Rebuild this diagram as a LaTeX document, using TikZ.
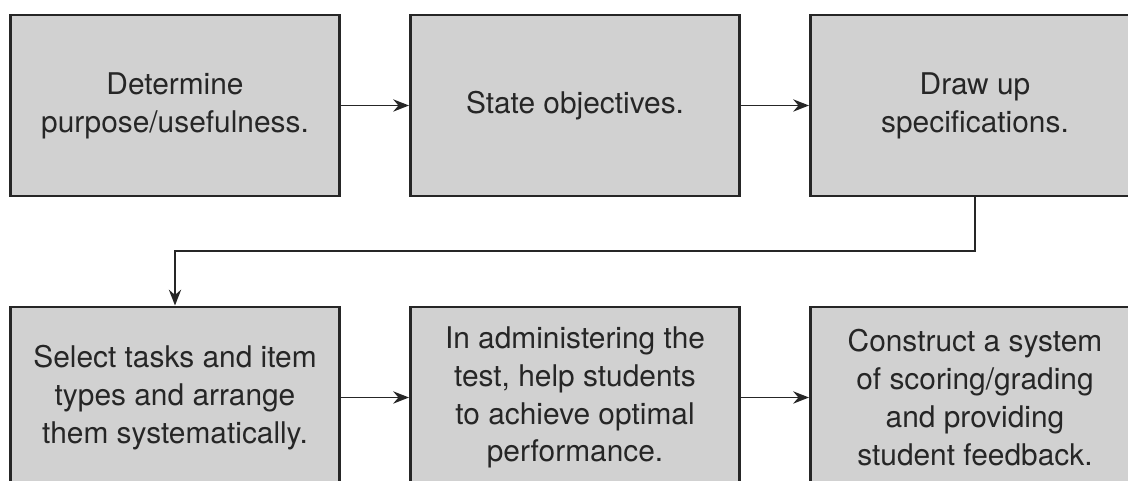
\documentclass[tikz,border=0pt]{standalone}
\usepackage{fontspec}
\setmainfont{TeX Gyre Heros}
\usepackage{tikz}
\usetikzlibrary{arrows.meta}
\definecolor{boxgray}{rgb}{0.82,0.82,0.82}
\definecolor{ink}{rgb}{0.15,0.15,0.15}

\begin{document}
\begin{tikzpicture}
\tikzstyle{stage} = [rectangle, draw=ink, line width=1.7pt, fill=boxgray, text=ink,
  minimum width=6.58cm, minimum height=3.62cm, inner sep=0pt, align=center,
  font=\fontsize{17}{21.5}\selectfont]
\tikzstyle{flow} = [draw=ink, line width=1.1pt, -{Stealth[length=9pt,width=7pt,inset=3pt]}]

\clip (0,0) rectangle (22.56,-9.62);

\node[stage] (purpose) at (3.5,-2.11) {Determine\\purpose/usefulness.};
\node[stage] (objectives) at (11.5,-2.11) {State objectives.};
\node[stage] (specs) at (19.5,-2.11) {Draw up\\specifications.};
\node[stage] (tasks) at (3.5,-7.95) {Select tasks and item\\types and arrange\\them systematically.};
\node[stage] (admin) at (11.5,-7.95) {In administering the\\test, help students\\to achieve optimal\\performance.};
\node[stage] (scoring) at (19.5,-7.95) {Construct a system\\of scoring/grading\\and providing\\student feedback.};

\coordinate (turn) at (3.5,-5.02);

\path (purpose) edge[flow] (objectives);
\path (objectives) edge[flow] (specs);
\path (tasks) edge[flow] (admin);
\path (admin) edge[flow] (scoring);

% second row starts under the first box
\draw[flow] (specs.south) |- (turn) -- (tasks.north);
\end{tikzpicture}
\end{document}
